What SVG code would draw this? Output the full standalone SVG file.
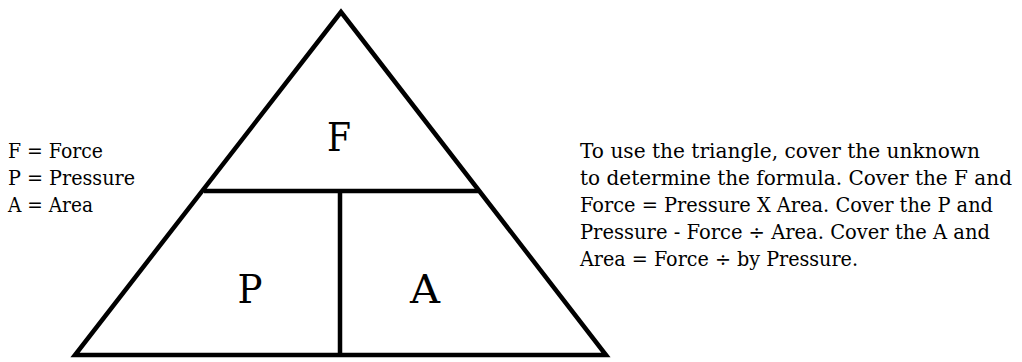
<svg xmlns="http://www.w3.org/2000/svg" width="1022" height="362" viewBox="0 0 1022 362">
<style>
.t{font-family:"DejaVu Serif","Liberation Serif",serif;font-size:20px;fill:#000}
.big{font-family:"DejaVu Serif","Liberation Serif",serif;font-size:40px;fill:#000;text-anchor:middle}
.ln{stroke:#000;stroke-width:4.5;fill:none;stroke-linejoin:miter}
</style>
<rect width="1022" height="362" fill="#fff"/>
<g id="triangle">
<polygon class="ln" points="341,12 75,355 606,355"/>
</g>
<g id="connectors">
<line class="ln" x1="204" y1="191" x2="478" y2="191"/>
<line class="ln" x1="340" y1="191" x2="340" y2="355"/>
</g>
<g id="nodeF"><text class="big" x="339" y="151" textLength="24" lengthAdjust="spacingAndGlyphs">F</text></g>
<g id="nodeP"><text class="big" x="250" y="303" textLength="25" lengthAdjust="spacingAndGlyphs">P</text></g>
<g id="nodeA"><text class="big" x="425" y="303" textLength="30" lengthAdjust="spacingAndGlyphs">A</text></g>
<g id="legend">
<text class="t" x="8" y="158" textLength="95" lengthAdjust="spacingAndGlyphs">F = Force</text>
<text class="t" x="8" y="185" textLength="127" lengthAdjust="spacingAndGlyphs">P = Pressure</text>
<text class="t" x="8" y="212" textLength="85" lengthAdjust="spacingAndGlyphs">A = Area</text>
</g>
<g id="explanation">
<text class="t" x="580" y="158" textLength="400" lengthAdjust="spacingAndGlyphs">To use the triangle, cover the unknown</text>
<text class="t" x="580" y="185" textLength="432" lengthAdjust="spacingAndGlyphs">to determine the formula. Cover the F and</text>
<text class="t" x="580" y="212" textLength="413" lengthAdjust="spacingAndGlyphs">Force = Pressure X Area. Cover the P and</text>
<text class="t" x="580" y="239" textLength="410" lengthAdjust="spacingAndGlyphs">Pressure - Force ÷ Area. Cover the A and</text>
<text class="t" x="580" y="266" textLength="278" lengthAdjust="spacingAndGlyphs">Area = Force  ÷ by Pressure.</text>
</g>
</svg>
